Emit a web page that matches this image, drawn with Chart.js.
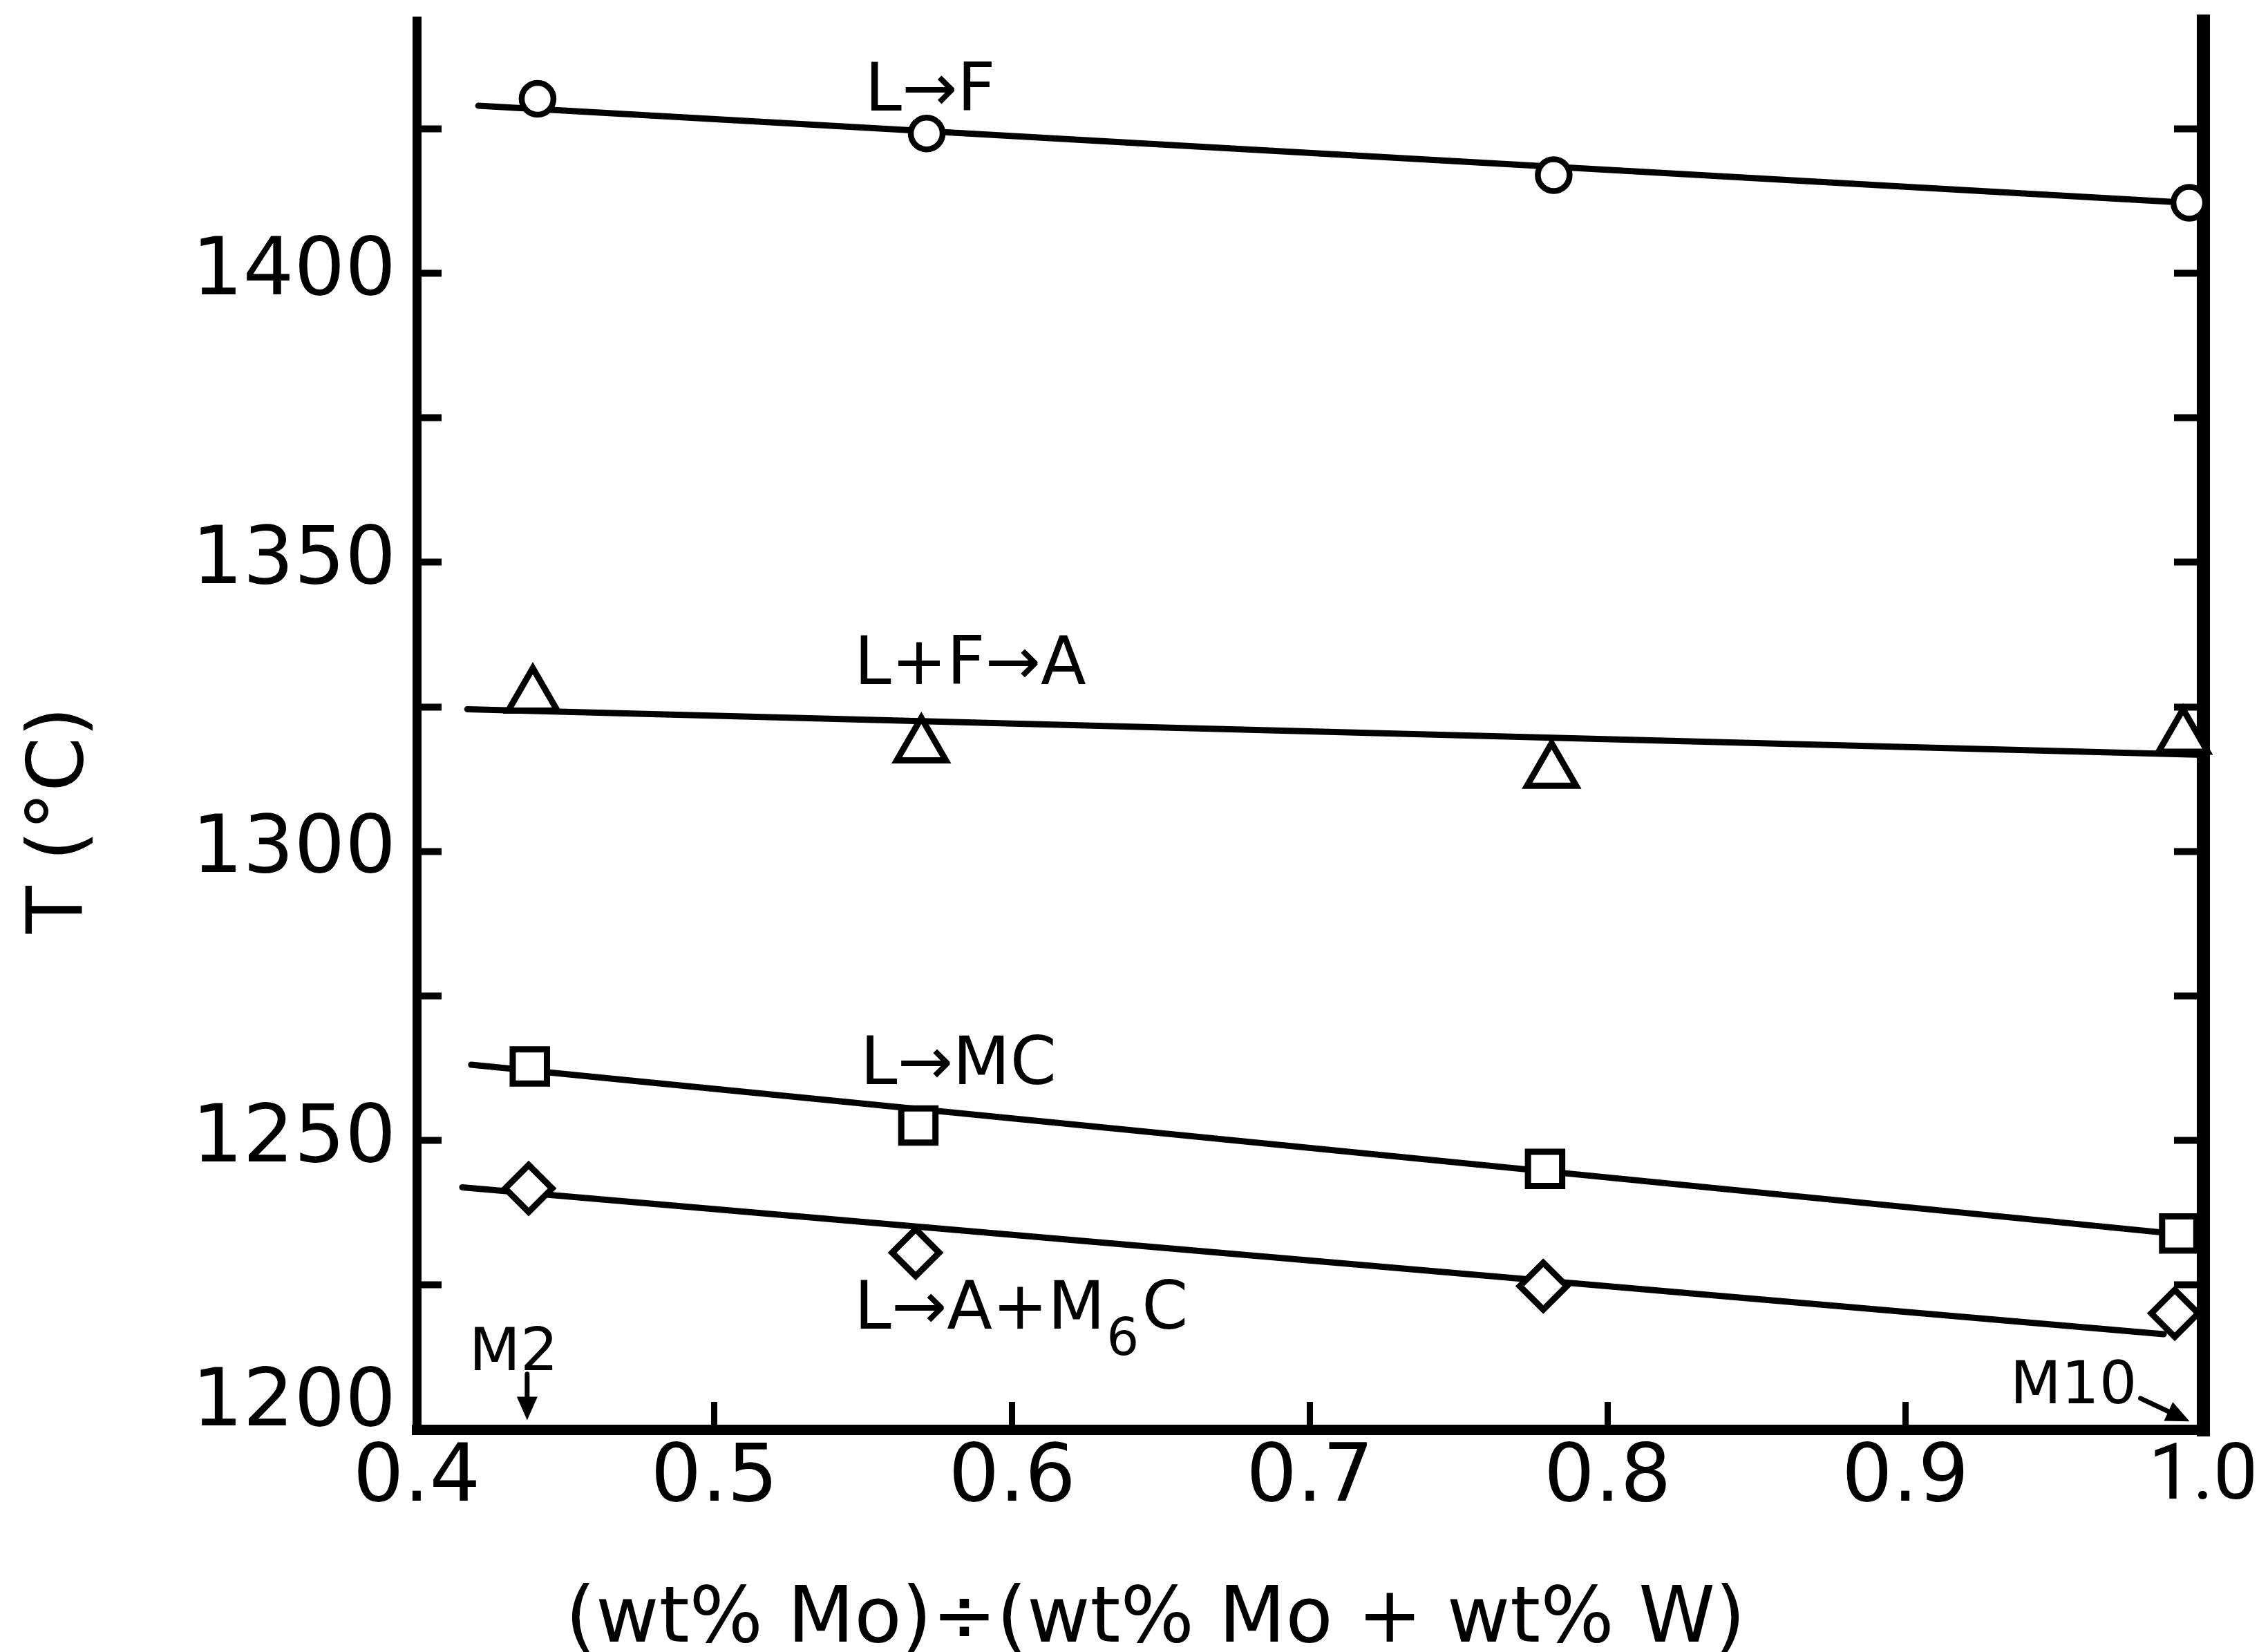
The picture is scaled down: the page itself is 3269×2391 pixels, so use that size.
<!DOCTYPE html>
<html>
<head>
<meta charset="utf-8">
<title>T vs Mo/(Mo+W)</title>
<script src="https://cdn.jsdelivr.net/npm/chart.js@4.4.1/dist/chart.umd.min.js"></script>
<style>
  html, body { margin: 0; padding: 0; background: #fff; }
  canvas { display: block; }
</style>
</head>
<body>
<canvas id="myChart" width="3269" height="2391"></canvas>
<script>
/* ~~~~~~~~~~ DATA ~~~~~~~~~~*/

// measured points, x = (wt% Mo)/(wt% Mo + wt% W), T in deg C
const circleX = [0.4406, 0.5713, 0.7819, 0.9954];
const circleT = [1430.2, 1424.2, 1417.0, 1412.2];
const triangleX = [0.4390, 0.5695, 0.7812, 0.9933];
const triangleT = [1326.8, 1318.2, 1313.8, 1319.7];
const squareX = [0.4380, 0.5685, 0.7790, 0.9920];
const squareT = [1262.8, 1252.6, 1245.1, 1233.9];
const diamondX = [0.4376, 0.5676, 0.7784, 0.9905];
const diamondT = [1241.7, 1230.6, 1224.8, 1220.1];

// hand drawn fit lines (start, end)
const fitX = [[0.4207, 0.9889], [0.4170, 1.0], [0.4183, 0.9900], [0.4153, 0.9868]];
const fitT = [[1429.0, 1412.4], [1324.6, 1316.7], [1263.1, 1233.9], [1241.9, 1216.5]];

// reaction labels, "_6" = lowered 6
const reactionLabels = ['L→F', 'L+F→A', 'L→MC', 'L→A+M_6C'];
const labelX = [0.5505, 0.5470, 0.5490, 0.5470];
const labelT = [1428.2, 1329.0, 1259.8, 1217.4];

// alloys pointed at with arrows
const alloyNames = ['M2', 'M10'];
const alloyTextX = [0.4176, 0.9352];
const alloyTextT = [1210.3, 1204.6];
const arrowFrom = [[0.4371, 1209.6], [0.9790, 1205.4]];
const arrowTo = [[0.4371, 1201.6], [0.9955, 1201.4]];

const tMin = 1200;
const tMax = 1443.7;
const xMin = 0.4;
const xMax = 1.0;

const yTitle = 'T (°C)';
const xTitle = '(wt% Mo)÷(wt% Mo + wt% W)';

/* ~~~~~~~~~~ HELPERS ~~~~~~~~~~*/

const FONT = 'DejaVu Sans';

function drawArrow(ctx, x1, y1, x2, y2) {
  let a = Math.atan2(y2 - y1, x2 - x1);
  let head = 34;
  let half = 15;
  let bx = x2 - Math.cos(a) * head;
  let by = y2 - Math.sin(a) * head;
  ctx.beginPath();
  ctx.moveTo(x1, y1);
  ctx.lineTo(bx, by);
  ctx.stroke();
  ctx.beginPath();
  ctx.moveTo(x2, y2);
  ctx.lineTo(bx + Math.sin(a) * half, by - Math.cos(a) * half);
  ctx.lineTo(bx - Math.sin(a) * half, by + Math.cos(a) * half);
  ctx.closePath();
  ctx.fill();
}

// scales add label padding to the layout, we pin the plot box ourselves
function pinScale(size) {
  return (scale) => {
    if (scale.isHorizontal()) scale.height = size;
    else scale.width = size;
    scale.paddingTop = 0;
    scale.paddingBottom = 0;
    scale.paddingLeft = 0;
    scale.paddingRight = 0;
  };
}

// labels, arrows and axis titles
const annotationPlugin = {
  id: 'annotations',
  afterDraw(chart) {
    let ctx = chart.ctx;
    let xs = chart.scales.x;
    let ys = chart.scales.y;
    ctx.save();
    ctx.fillStyle = '#000';
    ctx.strokeStyle = '#000';
    ctx.lineWidth = 7;
    ctx.lineCap = 'round';
    ctx.textAlign = 'left';
    ctx.textBaseline = 'alphabetic';

    reactionLabels.forEach((text, i) => {
      let px = xs.getPixelForValue(labelX[i]);
      let py = ys.getPixelForValue(labelT[i]);
      let parts = text.split(/_(\d)/);
      parts.forEach((part, k) => {
        if (k % 2 === 1) {
          ctx.font = `74px "${FONT}"`;
          ctx.fillText(part, px + 2, py + 38);
        } else {
          ctx.font = `96px "${FONT}"`;
          ctx.fillText(part, px, py);
        }
        px += ctx.measureText(part).width + (k % 2 === 1 ? 6 : 0);
      });
    });

    ctx.font = `86px "${FONT}"`;
    alloyNames.forEach((name, i) => {
      ctx.fillText(name, xs.getPixelForValue(alloyTextX[i]), ys.getPixelForValue(alloyTextT[i]));
      drawArrow(ctx,
        xs.getPixelForValue(arrowFrom[i][0]), ys.getPixelForValue(arrowFrom[i][1]),
        xs.getPixelForValue(arrowTo[i][0]), ys.getPixelForValue(arrowTo[i][1]));
    });

    // axis titles
    ctx.font = `113px "${FONT}"`;
    ctx.textAlign = 'center';
    ctx.save();
    ctx.translate(119, 1187);
    ctx.rotate(-Math.PI / 2);
    ctx.fillText(yTitle, 0, 0);
    ctx.restore();
    ctx.font = `112px "${FONT}"`;
    ctx.fillText(xTitle, 1672, 2376);
    ctx.restore();
  }
};

/* ~~~~~~~~~~ CHART ~~~~~~~~~~*/

Chart.defaults.font.family = FONT;
Chart.defaults.color = '#000';

const markerSets = [
  { name: reactionLabels[0], xs: circleX, ts: circleT, style: 'circle', radius: 23, width: 8.5 },
  { name: reactionLabels[1], xs: triangleX, ts: triangleT, style: 'triangle', radius: 41, width: 9 },
  { name: reactionLabels[2], xs: squareX, ts: squareT, style: 'rect', radius: 35, width: 9 },
  { name: reactionLabels[3], xs: diamondX, ts: diamondT, style: 'rectRot', radius: 34, width: 9 },
];

let datasets = [];
markerSets.forEach((m) => {
  datasets.push({
    label: m.name,
    data: m.xs.map((x, i) => ({ x: x, y: m.ts[i] })),
    showLine: false,
    pointStyle: m.style,
    pointRadius: m.radius,
    pointBorderWidth: m.width,
    pointBorderColor: '#000',
    pointBackgroundColor: '#fff',
    clip: false,
    order: 0,
  });
});
fitX.forEach((xs, i) => {
  datasets.push({
    label: reactionLabels[i] + ' fit',
    data: xs.map((x, j) => ({ x: x, y: fitT[i][j] })),
    showLine: true,
    borderColor: '#000',
    borderWidth: 9,
    borderCapStyle: 'round',
    pointRadius: 0,
    clip: false,
    order: 1,
  });
});

let chartContext = document.getElementById('myChart').getContext('2d');

let tempChart = new Chart(chartContext, {
  type: 'scatter',
  data: { datasets: datasets },
  options: {
    responsive: false,
    devicePixelRatio: 1,
    animation: false,
    events: [],
    layout: { autoPadding: false, padding: { top: 30, left: 0, right: 0, bottom: 0 } },
    plugins: {
      legend: { display: false },
      tooltip: { enabled: false },
    },
    scales: {
      x: {
        type: 'linear',
        position: 'bottom',
        min: xMin,
        max: xMax,
        z: 1,
        afterFit: pinScale(322),
        border: { display: true, width: 15, color: '#000' },
        grid: { drawOnChartArea: false, tickLength: -40, tickWidth: 9, lineWidth: 15, color: '#000' },
        ticks: {
          stepSize: 0.1,
          padding: 43,
          autoSkip: false,
          maxRotation: 0,
          color: '#000',
          // last label sits on the page edge, a narrower face keeps it whole
          font: (c) => (c.index === 6 ? { family: 'Roboto', size: 114 } : { size: 116 }),
          callback: (v) => Number(v).toFixed(1),
        },
      },
      y: {
        type: 'linear',
        position: 'left',
        min: tMin,
        max: tMax,
        z: 1,
        afterFit: pinScale(603),
        border: { display: true, width: 13, color: '#000' },
        grid: { drawOnChartArea: false, tickLength: -36, tickWidth: 10, lineWidth: 13, color: '#000' },
        ticks: {
          stepSize: 25,
          includeBounds: false,
          padding: 66,
          autoSkip: false,
          color: '#000',
          // bottom label sits a bit higher than its tick
          font: (c) => (c.tick && c.tick.value === tMin ? { size: 116, lineHeight: 0.62 } : { size: 116 }),
          callback: (v) => (v % 50 === 0 ? (v === tMin ? [String(v), ''] : String(v)) : ''),
        },
      },
      y2: {
        type: 'linear',
        position: 'right',
        min: tMin,
        max: tMax,
        z: 1,
        afterFit: pinScale(81),
        border: { display: true, width: 19, color: '#000' },
        grid: { drawOnChartArea: false, tickLength: -42, tickWidth: 10, lineWidth: 19, color: '#000' },
        ticks: {
          stepSize: 25,
          includeBounds: false,
          autoSkip: false,
          callback: () => '',
        },
      },
    },
  },
  plugins: [annotationPlugin],
});
</script>
</body>
</html>
